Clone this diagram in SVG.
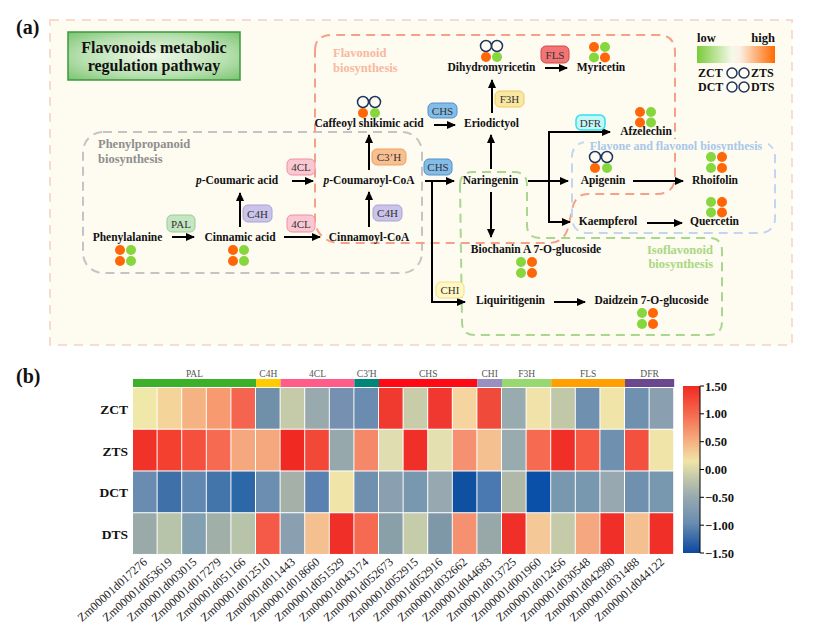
<svg xmlns="http://www.w3.org/2000/svg" width="831" height="644" viewBox="0 0 831 644">
<style>
.n{font-family:"Liberation Serif","Times New Roman",serif;font-weight:bold;font-size:11.5px;fill:#111;text-anchor:middle}
.e{font-family:"Liberation Serif","Times New Roman",serif;font-size:11px;fill:#333;text-anchor:middle}
.reg{font-family:"Liberation Serif","Times New Roman",serif;font-weight:bold;font-size:12.5px}
.lab{font-family:"Liberation Serif","Times New Roman",serif;font-weight:bold;font-size:20px;fill:#111}
.ar{fill:none;stroke:#000;stroke-width:2;marker-end:url(#ah)}
.o{fill:#ff6608}
.g{fill:#86d63e}
.w{fill:none;stroke:#1e3560;stroke-width:1.5}
.rl{font-family:"Liberation Serif","Times New Roman",serif;font-weight:bold;font-size:13.5px;fill:#111;text-anchor:end}
.cl{font-family:"Liberation Serif","Times New Roman",serif;font-size:12px;fill:#222;text-anchor:end}
.gl{font-family:"Liberation Serif","Times New Roman",serif;font-size:9.5px;fill:#555;text-anchor:middle}
.tk{font-family:"Liberation Serif","Times New Roman",serif;font-weight:bold;font-size:12.5px;fill:#111}
.hm rect{height:40.7px;width:23.6px}
</style>
<defs>
<marker id="ah" markerUnits="userSpaceOnUse" markerWidth="9" markerHeight="8" refX="8" refY="4" orient="auto"><path d="M0,0 L9,4 L0,8 z" fill="#000"/></marker>
<radialGradient id="tg" cx="50%" cy="50%" r="70%"><stop offset="0" stop-color="#eef8e8"/><stop offset="0.6" stop-color="#b8e0b0"/><stop offset="1" stop-color="#7cc472"/></radialGradient>
<linearGradient id="lg" x1="0" y1="0" x2="1" y2="0"><stop offset="0" stop-color="#78cc38"/><stop offset="0.45" stop-color="#f6f8ea"/><stop offset="0.55" stop-color="#fcefe2"/><stop offset="1" stop-color="#ff6a00"/></linearGradient>
<linearGradient id="cb" x1="0" y1="0" x2="0" y2="1"><stop offset="0" stop-color="#f02a22"/><stop offset="0.17" stop-color="#f56a50"/><stop offset="0.33" stop-color="#f5b080"/><stop offset="0.45" stop-color="#f0e4a8"/><stop offset="0.55" stop-color="#c2c8aa"/><stop offset="0.67" stop-color="#96a8b0"/><stop offset="0.82" stop-color="#6a8cb0"/><stop offset="1" stop-color="#0a48a0"/></linearGradient>
</defs>
<rect width="831" height="644" fill="#fff"/>

<g id="panel-a">
<rect x="50" y="20" width="742" height="325" fill="#fefbf1" stroke="#f9dcd0" stroke-width="2" stroke-dasharray="9,7"/>
<text class="lab" x="16" y="34">(a)</text>
</g>

<g id="regions">
<rect x="83" y="132" width="339" height="141" rx="20" fill="none" stroke="#c4c4c4" stroke-width="2" stroke-dasharray="9,6"/>
<text class="reg" x="98" y="148" fill="#8e8e8e">Phenylpropanoid</text>
<text class="reg" x="98" y="163" fill="#8e8e8e">biosynthesis</text>
<path d="M315,50 Q315,35 332,35 L658,35 Q675,35 675,52 L675,176 Q675,194 657,194 L588,194 Q575,194 572,210 L568,228 Q564,243 548,243 L340,243 Q322,243 315,225 Z" fill="none" stroke="#f7a088" stroke-width="2" stroke-dasharray="9,6"/>
<text class="reg" x="333" y="57" fill="#f8b8a0">Flavonoid</text>
<text class="reg" x="333" y="72" fill="#f8b8a0">biosynthesis</text>
<path d="M460,185 Q460,172 473,172 L514,172 Q527,172 527,185 L527,225 Q527,238 540,238 L709,238 Q722,238 722,251 L722,322 Q722,335 709,335 L475,335 Q462,335 462,322 Z" fill="none" stroke="#a8d890" stroke-width="2" stroke-dasharray="9,6"/>
<text class="reg" x="713" y="254" fill="#a8d880" text-anchor="end">Isoflavonoid</text>
<text class="reg" x="713" y="268" fill="#a8d880" text-anchor="end">biosynthesis</text>
<rect x="572" y="142" width="203" height="91" rx="14" fill="none" stroke="#c0d6f2" stroke-width="2" stroke-dasharray="9,6"/>
<rect x="584" y="139" width="184" height="13" fill="#fefbf1"/>
<text class="reg" x="676" y="150" fill="#a8c8e8" text-anchor="middle" style="font-size:12px">Flavone and flavonol biosynthesis</text>
</g>

<g id="title">
<rect x="68" y="32" width="172" height="48" fill="url(#tg)" stroke="#3a9a3a" stroke-width="1.5"/>
<text class="n" x="154" y="53" style="font-size:16px">Flavonoids metabolic</text>
<text class="n" x="154" y="71" style="font-size:16px">regulation pathway</text>
</g>

<g id="legend">
<text class="n" x="697" y="42" style="text-anchor:start;font-size:12.5px">low</text>
<text class="n" x="775" y="42" style="text-anchor:end;font-size:12.5px">high</text>
<rect x="697" y="46" width="78" height="17" fill="url(#lg)"/>
<text class="n" x="698" y="77" style="text-anchor:start;font-size:12px">ZCT</text>
<circle class="w" cx="732" cy="73" r="5"/><circle class="w" cx="744" cy="73" r="5"/>
<text class="n" x="751" y="77" style="text-anchor:start;font-size:12px">ZTS</text>
<text class="n" x="698" y="91" style="text-anchor:start;font-size:12px">DCT</text>
<circle class="w" cx="732" cy="87" r="5"/><circle class="w" cx="744" cy="87" r="5"/>
<text class="n" x="751" y="91" style="text-anchor:start;font-size:12px">DTS</text>
</g>

<g id="connectors">
<path class="ar" d="M172,237 H194"/>
<path class="ar" d="M240,227 V193"/>
<path class="ar" d="M292,181 H313"/>
<path class="ar" d="M284,237 H320"/>
<path class="ar" d="M369,227 V192"/>
<path class="ar" d="M369,170 V135"/>
<path class="ar" d="M434,125 H455"/>
<path class="ar" d="M492,113 V80"/>
<path class="ar" d="M545,68 H567"/>
<path class="ar" d="M425,181 H454"/>
<path class="ar" d="M432,181 V302 H465"/>
<path class="ar" d="M491,169 V135"/>
<path class="ar" d="M491,192 V237"/>
<path class="ar" d="M528,181 H568"/>
<path class="ar" d="M549,181 V132 H610"/>
<path class="ar" d="M549,181 V222 H570"/>
<path class="ar" d="M633,181 H683"/>
<path class="ar" d="M647,223 H682"/>
<path class="ar" d="M554,302 H585"/>
</g>

<g id="enzymes">
<g id="e-pal"><rect x="167" y="215" width="28" height="17" rx="5" fill="#c4e6c2" stroke="#98cc96"/><text class="e" x="181" y="227.5">PAL</text></g>
<g id="e-c4h1"><rect x="243" y="205" width="29" height="17" rx="5" fill="#cac4ea" stroke="#aaa2d8"/><text class="e" x="257.5" y="217.5">C4H</text></g>
<g id="e-4cl1"><rect x="287" y="159" width="28" height="16" rx="5" fill="#fac8d2" stroke="#f08ea2"/><text class="e" x="301" y="171">4CL</text></g>
<g id="e-4cl2"><rect x="287" y="215" width="28" height="17" rx="5" fill="#fac8d2" stroke="#f08ea2"/><text class="e" x="301" y="227.5">4CL</text></g>
<g id="e-c4h2"><rect x="373" y="205" width="29" height="16" rx="5" fill="#cac4ea" stroke="#aaa2d8"/><text class="e" x="387.5" y="217">C4H</text></g>
<g id="e-c3h"><rect x="372" y="149" width="34" height="16" rx="5" fill="#f8c090" stroke="#f0a060"/><text class="e" x="389" y="161">C3’H</text></g>
<g id="e-chs1"><rect x="428" y="103" width="29" height="15" rx="5" fill="#84bce8" stroke="#5090c8"/><text class="e" x="442.5" y="114.5">CHS</text></g>
<g id="e-chs2"><rect x="424" y="159" width="28" height="16" rx="5" fill="#84bce8" stroke="#5090c8"/><text class="e" x="438" y="171">CHS</text></g>
<g id="e-f3h"><rect x="495" y="91" width="29" height="16" rx="5" fill="#f9e8a2" stroke="#f0c860"/><text class="e" x="509.5" y="103">F3H</text></g>
<g id="e-fls"><rect x="541" y="46" width="28" height="17" rx="5" fill="#f27474" stroke="#d04848"/><text class="e" x="555" y="58.5">FLS</text></g>
<g id="e-dfr"><rect x="576" y="115" width="29" height="15" rx="5" fill="#c4f8f8" stroke="#30e0f0" stroke-width="1.5"/><text class="e" x="590.5" y="126.5">DFR</text></g>
<g id="e-chi"><rect x="436" y="282" width="28" height="16" rx="5" fill="#fff8c4" stroke="#f0e080"/><text class="e" x="450" y="294">CHI</text></g>
</g>

<g id="n-phenylalanine"><text class="n" x="127.5" y="241">Phenylalanine</text>
<circle class="o" cx="120" cy="250" r="5"/><circle class="g" cx="131" cy="250" r="5"/><circle class="o" cx="120" cy="261" r="5"/><circle class="g" cx="131" cy="261" r="5"/></g>
<g id="n-cinnamic"><text class="n" x="240" y="241">Cinnamic acid</text>
<circle class="o" cx="233" cy="250" r="5"/><circle class="g" cx="244" cy="250" r="5"/><circle class="o" cx="233" cy="261" r="5"/><circle class="g" cx="244" cy="261" r="5"/></g>
<g id="n-pcoumaric"><text class="n" x="237" y="184"><tspan font-style="italic">p</tspan>-Coumaric acid</text></g>
<g id="n-pcoumaroyl"><text class="n" x="369" y="184"><tspan font-style="italic">p</tspan>-Coumaroyl-CoA</text></g>
<g id="n-cinnamoyl"><text class="n" x="369" y="241">Cinnamoyl-CoA</text></g>
<g id="n-caffeoyl"><text class="n" x="369" y="127">Caffeoyl shikimic acid</text>
<circle class="w" cx="363" cy="102" r="5.5"/><circle class="w" cx="375" cy="102" r="5.5"/><circle class="o" cx="363" cy="113" r="5"/><circle class="g" cx="375" cy="113" r="5"/></g>
<g id="n-eriodictyol"><text class="n" x="491.5" y="127">Eriodictyol</text></g>
<g id="n-dihydromyricetin"><text class="n" x="491.5" y="71">Dihydromyricetin</text>
<circle class="w" cx="486" cy="46" r="5.5"/><circle class="w" cx="497" cy="46" r="5.5"/><circle class="o" cx="486" cy="57" r="5"/><circle class="g" cx="497" cy="57" r="5"/></g>
<g id="n-myricetin"><text class="n" x="601" y="71">Myricetin</text>
<circle class="o" cx="594" cy="47" r="5"/><circle class="g" cx="605" cy="47" r="5"/><circle class="g" cx="594" cy="57.5" r="5"/><circle class="o" cx="605" cy="57.5" r="5"/></g>
<g id="n-naringenin"><text class="n" x="490.5" y="184">Naringenin</text></g>
<g id="n-afzelechin"><text class="n" x="646" y="135">Afzelechin</text>
<circle class="o" cx="640" cy="112" r="5"/><circle class="g" cx="651" cy="112" r="5"/><circle class="o" cx="640" cy="122.5" r="5"/><circle class="g" cx="651" cy="122.5" r="5"/></g>
<g id="n-apigenin"><text class="n" x="603" y="184">Apigenin</text>
<circle class="w" cx="595" cy="157" r="5.5"/><circle class="w" cx="607" cy="157" r="5.5"/><circle class="o" cx="595" cy="168" r="5"/><circle class="g" cx="607" cy="168" r="5"/></g>
<g id="n-rhoifolin"><text class="n" x="715" y="184">Rhoifolin</text>
<circle class="g" cx="711" cy="157" r="5"/><circle class="o" cx="722" cy="157" r="5"/><circle class="g" cx="711" cy="168" r="5"/><circle class="o" cx="722" cy="168" r="5"/></g>
<g id="n-kaempferol"><text class="n" x="608" y="225">Kaempferol</text></g>
<g id="n-quercetin"><text class="n" x="714.5" y="225">Quercetin</text>
<circle class="g" cx="711" cy="202" r="5"/><circle class="o" cx="722" cy="202" r="5"/><circle class="g" cx="711" cy="212.5" r="5"/><circle class="o" cx="722" cy="212.5" r="5"/></g>
<g id="n-biochanin"><text class="n" x="536" y="253">Biochanin A 7-O-glucoside</text>
<circle class="g" cx="521" cy="262" r="5"/><circle class="o" cx="532" cy="262" r="5"/><circle class="g" cx="521" cy="273" r="5"/><circle class="o" cx="532" cy="273" r="5"/></g>
<g id="n-liquiritigenin"><text class="n" x="510.5" y="304">Liquiritigenin</text></g>
<g id="n-daidzein"><text class="n" x="651.5" y="304">Daidzein 7-O-glucoside</text>
<circle class="g" cx="642" cy="313" r="5"/><circle class="o" cx="653" cy="313" r="5"/><circle class="g" cx="642" cy="324" r="5"/><circle class="o" cx="653" cy="324" r="5"/></g>

<g id="panel-b">
<text class="lab" x="16" y="383">(b)</text>
<g id="groups">
<rect x="133" y="379" width="123" height="8" fill="#3db02a"/>
<rect x="256" y="379" width="24.6" height="8" fill="#ffcc00"/>
<rect x="280.6" y="379" width="73.8" height="8" fill="#ff5c8a"/>
<rect x="354.4" y="379" width="24.6" height="8" fill="#00857a"/>
<rect x="379" y="379" width="98.4" height="8" fill="#ff0a14"/>
<rect x="477.4" y="379" width="24.6" height="8" fill="#9a90c0"/>
<rect x="502" y="379" width="49.2" height="8" fill="#98d870"/>
<rect x="551.2" y="379" width="73.8" height="8" fill="#ffa000"/>
<rect x="625" y="379" width="49.2" height="8" fill="#6a4890"/>
<text class="gl" x="194.5" y="377">PAL</text>
<text class="gl" x="268.3" y="377">C4H</text>
<text class="gl" x="317.5" y="377">4CL</text>
<text class="gl" x="366.7" y="377">C3'H</text>
<text class="gl" x="428.2" y="377">CHS</text>
<text class="gl" x="489.7" y="377">CHI</text>
<text class="gl" x="526.6" y="377">F3H</text>
<text class="gl" x="588.1" y="377">FLS</text>
<text class="gl" x="649.6" y="377">DFR</text>
</g>
<g id="rowlabels">
<text class="rl" x="128" y="414">ZCT</text>
<text class="rl" x="128" y="456">ZTS</text>
<text class="rl" x="128" y="497">DCT</text>
<text class="rl" x="128" y="539">DTS</text>
</g>
<g class="hm" id="heatmap">
<g transform="translate(0,388)">
<rect x="133" fill="#f0e8a8"/><rect x="157.6" fill="#f5d49a"/><rect x="182.2" fill="#f5b282"/><rect x="206.8" fill="#f79a70"/><rect x="231.4" fill="#f5644e"/><rect x="256" fill="#7090aa"/><rect x="280.6" fill="#c5caa8"/><rect x="305.2" fill="#98aaae"/><rect x="329.8" fill="#7590b0"/><rect x="354.4" fill="#6a8cb0"/><rect x="379" fill="#f03a30"/><rect x="403.6" fill="#c8cca8"/><rect x="428.2" fill="#f03830"/><rect x="452.8" fill="#f5d4a0"/><rect x="477.4" fill="#f04a3a"/><rect x="502" fill="#98acb0"/><rect x="526.6" fill="#f0e2a8"/><rect x="551.2" fill="#c0c8a8"/><rect x="575.8" fill="#7090b0"/><rect x="600.4" fill="#f0e4a8"/><rect x="625" fill="#7090b0"/><rect x="649.6" fill="#8aa0b0"/>
</g>
<g transform="translate(0,429.75)">
<rect x="133" fill="#f03228"/><rect x="157.6" fill="#f3402f"/><rect x="182.2" fill="#f5503e"/><rect x="206.8" fill="#f66a52"/><rect x="231.4" fill="#f5a87e"/><rect x="256" fill="#f5a87e"/><rect x="280.6" fill="#f02a22"/><rect x="305.2" fill="#f34838"/><rect x="329.8" fill="#96a8ac"/><rect x="354.4" fill="#f58868"/><rect x="379" fill="#e0deb0"/><rect x="403.6" fill="#f03028"/><rect x="428.2" fill="#e4e0b0"/><rect x="452.8" fill="#f59070"/><rect x="477.4" fill="#f5c090"/><rect x="502" fill="#98acb0"/><rect x="526.6" fill="#f56a50"/><rect x="551.2" fill="#f03028"/><rect x="575.8" fill="#f55a45"/><rect x="600.4" fill="#7090b0"/><rect x="625" fill="#f35040"/><rect x="649.6" fill="#f0e4a8"/>
</g>
<g transform="translate(0,471.5)">
<rect x="133" fill="#6a8cb0"/><rect x="157.6" fill="#3f70a8"/><rect x="182.2" fill="#6088b0"/><rect x="206.8" fill="#4475aa"/><rect x="231.4" fill="#2c68a8"/><rect x="256" fill="#6c8eb0"/><rect x="280.6" fill="#a5b0a8"/><rect x="305.2" fill="#5a82b0"/><rect x="329.8" fill="#f0e4a8"/><rect x="354.4" fill="#7090b0"/><rect x="379" fill="#8aa0b0"/><rect x="403.6" fill="#7898b0"/><rect x="428.2" fill="#98a8b0"/><rect x="452.8" fill="#1050a0"/><rect x="477.4" fill="#4a78b0"/><rect x="502" fill="#b0b8a8"/><rect x="526.6" fill="#0a50a8"/><rect x="551.2" fill="#7898b0"/><rect x="575.8" fill="#7898b0"/><rect x="600.4" fill="#98a8b0"/><rect x="625" fill="#7090b0"/><rect x="649.6" fill="#7898b0"/>
</g>
<g transform="translate(0,513.25)">
<rect x="133" fill="#9aaaa8"/><rect x="157.6" fill="#b8c4aa"/><rect x="182.2" fill="#82a0b0"/><rect x="206.8" fill="#a0b0a8"/><rect x="231.4" fill="#b8c4aa"/><rect x="256" fill="#f55a48"/><rect x="280.6" fill="#8aa0b0"/><rect x="305.2" fill="#f5c090"/><rect x="329.8" fill="#f03028"/><rect x="354.4" fill="#f56a50"/><rect x="379" fill="#8aa0a8"/><rect x="403.6" fill="#c5ccaa"/><rect x="428.2" fill="#7f98a8"/><rect x="452.8" fill="#f59070"/><rect x="477.4" fill="#98a8a8"/><rect x="502" fill="#f03028"/><rect x="526.6" fill="#f5c898"/><rect x="551.2" fill="#c5caa8"/><rect x="575.8" fill="#f5a880"/><rect x="600.4" fill="#f03028"/><rect x="625" fill="#f5c090"/><rect x="649.6" fill="#f03028"/>
</g>
</g>
<g id="collabels">
<text class="cl" transform="translate(148,563) rotate(-42)">Zm00001d017276</text>
<text class="cl" transform="translate(173,563) rotate(-42)">Zm00001d053619</text>
<text class="cl" transform="translate(197.5,563) rotate(-42)">Zm00001d003015</text>
<text class="cl" transform="translate(222,563) rotate(-42)">Zm00001d017279</text>
<text class="cl" transform="translate(246.5,563) rotate(-42)">Zm00001d051166</text>
<text class="cl" transform="translate(271,563) rotate(-42)">Zm00001d012510</text>
<text class="cl" transform="translate(296,563) rotate(-42)">Zm00001d011443</text>
<text class="cl" transform="translate(320.5,563) rotate(-42)">Zm00001d018660</text>
<text class="cl" transform="translate(345,563) rotate(-42)">Zm00001d051529</text>
<text class="cl" transform="translate(369.5,563) rotate(-42)">Zm00001d043174</text>
<text class="cl" transform="translate(394,563) rotate(-42)">Zm00001d052673</text>
<text class="cl" transform="translate(419,563) rotate(-42)">Zm00001d052915</text>
<text class="cl" transform="translate(443.5,563) rotate(-42)">Zm00001d052916</text>
<text class="cl" transform="translate(468,563) rotate(-42)">Zm00001d032662</text>
<text class="cl" transform="translate(492.5,563) rotate(-42)">Zm00001d044683</text>
<text class="cl" transform="translate(517,563) rotate(-42)">Zm00001d013725</text>
<text class="cl" transform="translate(542,563) rotate(-42)">Zm00001d001960</text>
<text class="cl" transform="translate(566.5,563) rotate(-42)">Zm00001d012456</text>
<text class="cl" transform="translate(591,563) rotate(-42)">Zm00001d030548</text>
<text class="cl" transform="translate(615.5,563) rotate(-42)">Zm00001d042980</text>
<text class="cl" transform="translate(640,563) rotate(-42)">Zm00001d031488</text>
<text class="cl" transform="translate(665,563) rotate(-42)">Zm00001d044122</text>
</g>
<g id="colorbar">
<rect x="683" y="386" width="17" height="167" fill="url(#cb)"/>
<path d="M700,386 V553 M700,386 H704 M700,413.8 H704 M700,441.7 H704 M700,469.5 H704 M700,497.3 H704 M700,525.2 H704 M700,553 H704" fill="none" stroke="#000" stroke-width="1"/>
<text class="tk" x="705" y="390.5">1.50</text>
<text class="tk" x="705" y="418.3">1.00</text>
<text class="tk" x="705" y="446.2">0.50</text>
<text class="tk" x="705" y="474">0.00</text>
<text class="tk" x="705" y="501.8">−0.50</text>
<text class="tk" x="705" y="529.7">−1.00</text>
<text class="tk" x="705" y="557.5">−1.50</text>
</g>
</g>
</svg>
